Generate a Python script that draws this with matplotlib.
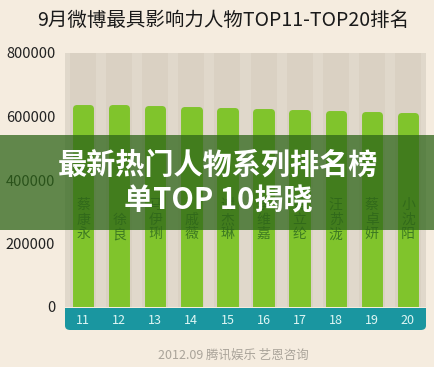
import matplotlib
matplotlib.use("Agg")
import matplotlib.pyplot as plt
from matplotlib.patches import Rectangle, FancyBboxPatch

plt.rcParams['font.family'] = ['Noto Sans CJK SC', 'DejaVu Sans']

# 数据
ranks = ['11', '12', '13', '14', '15', '16', '17', '18', '19', '20']
names = ['蔡康永', '徐良', '马伊琍', '戚薇', '谢杰琳', '李维嘉', '黄立纶', '汪苏泷', '蔡卓妍', '小沈阳']
values = [628000, 626000, 624000, 621000, 617000, 615000, 612000, 609000, 606000, 603000]
yticks = [0, 200000, 400000, 600000, 800000]

W, H = 435, 367
fig = plt.figure(figsize=(W / 100, H / 100), dpi=100)
fig.patch.set_facecolor('#f5ecdf')

# 绘图区 (像素 -> 比例)
left, right, top, bottom = 65, 426, 53, 307
ax = fig.add_axes([left / W, 1 - bottom / H, (right - left) / W, (bottom - top) / H])
ax.set_facecolor('#e0d8cb')

x = list(range(len(ranks)))
for i in x:
    ax.axvspan(i - 0.36, i + 0.36, color='#dad1c3', lw=0, zorder=0)

# 圆角柱子：用粗描边 + 圆角连接
ax.bar(x, values, width=0.40, color='#80c42c', edgecolor='#80c42c',
       linewidth=5, joinstyle='round', zorder=2)

for i, n in zip(x, names):
    ax.text(i, 207000, '\n'.join(n), ha='center', va='bottom', fontsize=10,
            color='#3d7a22', linespacing=1.05, zorder=3)

ax.set_xlim(-0.5, len(ranks) - 0.5)
ax.set_ylim(0, 800000)
ax.set_yticks(yticks)
ax.set_yticklabels([str(v) for v in yticks], fontsize=10.5, color='#222222')
ax.set_xticks([])
ax.tick_params(axis='y', length=0, pad=7)
for s in ax.spines.values():
    s.set_visible(False)

# 底部蓝绿色条
band_top, band_bot = 308, 330
fig.add_artist(FancyBboxPatch((left / W, 1 - band_bot / H), (right - left) / W, (band_bot - band_top) / H,
                              boxstyle='round,pad=0,rounding_size=0.012', transform=fig.transFigure,
                              facecolor='#1a96a0', edgecolor='none', zorder=5))
fig.add_artist(Rectangle((left / W, 1 - (band_top + 12) / H), (right - left) / W, 12 / H,
                         transform=fig.transFigure, facecolor='#1a96a0', edgecolor='none', zorder=5))
for i, r in zip(x, ranks):
    xf = ax.transData.transform((i, 0))[0] / W
    fig.text(xf, 1 - 320 / H, r, ha='center', va='center', fontsize=9,
             color='#dff6f4', zorder=6)

# 标题
fig.text(223 / W, 1 - 20 / H, '9月微博最具影响力人物TOP11-TOP20排名', ha='center', va='center',
         fontsize=14, color='#1a1a1a')

# 来源
fig.text(233 / W, 1 - 355 / H, '2012.09 腾讯娱乐 艺恩咨询', ha='center', va='center',
         fontsize=9, color='#aaa49a')

# 半透明绿色横幅
fig.add_artist(Rectangle((0, 1 - 230 / H), 1, 95 / H, transform=fig.transFigure,
                         facecolor='#2d6418', alpha=0.74, edgecolor='none', zorder=10))
fig.text(218 / W, 1 - 165 / H, '最新热门人物系列排名榜', ha='center', va='center',
         fontsize=21, fontweight='bold', color='white', zorder=11)
fig.text(218 / W, 1 - 200 / H, '单TOP 10揭晓', ha='center', va='center',
         fontsize=21, fontweight='bold', color='white', zorder=11)

fig.savefig('out.png', dpi=100, facecolor=fig.get_facecolor())
